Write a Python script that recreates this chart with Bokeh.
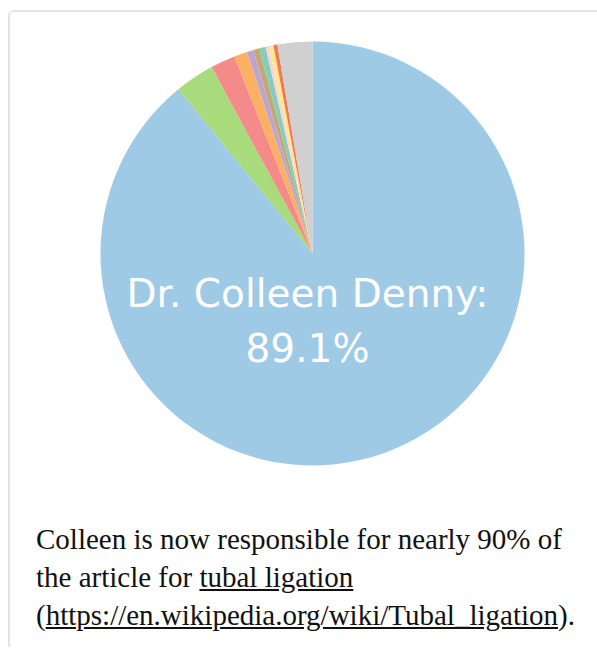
import math
from bokeh.plotting import figure
from bokeh.models import ColumnDataSource, Range1d, Div
from bokeh.layouts import column
from bokeh.core.properties import value
from bokeh.embed import file_html
from bokeh.resources import INLINE

# ---- data (shares of the article, %, clockwise from 12 o'clock) ----
authors = ["Dr. Colleen Denny", "Editor 2", "Editor 3", "Editor 4", "Editor 5",
           "Editor 6", "Editor 7", "Editor 8", "Editor 9", "Editor 10", "Others"]
shares = [89.1, 3.0, 1.9, 1.0, 0.5, 0.45, 0.5, 0.25, 0.35, 0.3, 2.65]
colors = ["#9ecae6", "#a7db7c", "#f58a8b", "#fbb062", "#bea5d0", "#c4a778",
          "#84cfb5", "#fbd0df", "#fde98a", "#ee7a5a", "#d0d0d0"]
label_index = 0
caption_lines = [
    "Colleen is now responsible for nearly 90% of",
    "the article for <u>tubal ligation</u>",
    "(<u>https://en.wikipedia.org/wiki/Tubal_ligation</u>).",
]

# ---- geometry of the figure ----
W, H = 579, 503
cx, cy, R = 302, 262, 212

total = sum(shares)
starts, ends = [], []
cum = 0.0
for s in shares:
    a0 = math.pi / 2 - 2 * math.pi * cum / total
    cum += s
    a1 = math.pi / 2 - 2 * math.pi * cum / total
    starts.append(a1)
    ends.append(a0)

src = ColumnDataSource(dict(author=authors, share=shares, color=colors,
                            start=starts, end=ends))

p = figure(width=W, height=H, x_range=Range1d(0, W), y_range=Range1d(0, H),
           min_border=0, x_axis_type=None, y_axis_type=None,
           toolbar_location=None, output_backend="svg",
           outline_line_color=None, background_fill_color="white",
           border_fill_color="white")
p.grid.visible = False

p.wedge(x=cx, y=cy, radius=R, start_angle="start", end_angle="end",
        fill_color="color", line_color=None, source=src)

lbl = ColumnDataSource(dict(
    x=[cx - 5, cx - 5],
    y=[cy - 40, cy - 95],
    t=[authors[label_index] + ":", f"{shares[label_index]:.1f}%"],
))
p.text(x="x", y="y", text="t", source=lbl, text_color="white",
       text_font=value("DejaVu Sans"), text_font_size="39px",
       text_align="center", text_baseline="alphabetic")

cap = Div(
    text="<br>".join(caption_lines),
    width=W, height=122,
    styles={"font-family": "'Liberation Serif', serif", "font-size": "29px",
            "line-height": "38px", "color": "#111111", "white-space": "nowrap",
            "padding-left": "21px"},
)

layout = column(p, cap, spacing=0,
                styles={"border-top": "2px solid #e3e3e3",
                        "border-left": "2px solid #e3e3e3",
                        "border-top-left-radius": "6px",
                        "margin-top": "10px", "margin-left": "8px"})

open("out.html", "w").write(file_html(layout, INLINE))
